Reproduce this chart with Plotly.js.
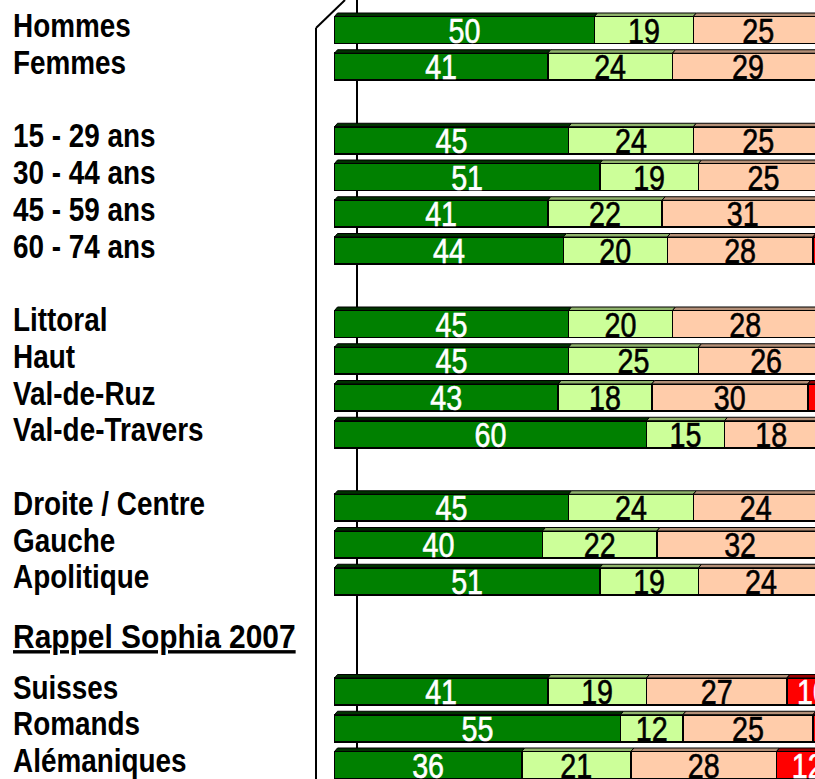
<!DOCTYPE html>
<html>
<head>
<meta charset="utf-8">
<script src="https://cdn.plot.ly/plotly-3.0.1.min.js"></script>
<style>
html, body { margin:0; padding:0; overflow:hidden; background:#fff; }
#chart { width:1000px; height:779px; }
</style>
</head>
<body>
<div id="chart"></div>
<script>
// ---- data ----
const categories = [
  "Hommes", "Femmes",
  "15 - 29 ans", "30 - 44 ans", "45 - 59 ans", "60 - 74 ans",
  "Littoral", "Haut", "Val-de-Ruz", "Val-de-Travers",
  "Droite / Centre", "Gauche", "Apolitique",
  "Suisses", "Romands", "Alémaniques"
];
const groupSizes = [2, 4, 4, 3, 3];
const groupHeadings = ["", "", "", "", "Rappel Sophia 2007"];
const seriesNames = ["Très favorable", "Plutôt favorable", "Plutôt défavorable", "Très défavorable"];
const s1 = [50, 41, 45, 51, 41, 44, 45, 45, 43, 60, 45, 40, 51, 41, 55, 36];
const s2 = [19, 24, 24, 19, 22, 20, 20, 25, 18, 15, 24, 22, 19, 19, 12, 21];
const s3 = [25, 29, 25, 25, 31, 28, 28, 26, 30, 18, 24, 32, 24, 27, 25, 28];
const s4 = [6, 6, 6, 5, 6, 8, 7, 4, 9, 7, 7, 6, 6, 10, 8, 12];

// ---- styles ----
const colors = ["#008000", "#CCFF99", "#FFCCAA", "#FF0000"];
const topColors = ["#003300", "#8FB36B", "#B38F77", "#990000"];
const textColors = ["#FFFFFF", "#000000", "#000000", "#FFFFFF"];
const FONT = "'Liberation Sans', Arial, sans-serif";
const NARROW = 0.82, HEAD_NARROW = 0.88;

const W = 1000, H = 779;
const x0px = 334.5, pxPerUnit = 5.2;
const rowPx = 36.75, row0px = 30;
const xRange = [-x0px / pxPerUnit, (W - x0px) / pxPerUnit];
const yTop = -row0px / rowPx;
const yRange = [yTop + H / rowPx, yTop];
const barW = 27 / rowPx;
const depthX = 3 / pxPerUnit, depthY = 3.5 / rowPx;

// rows: groups separated by one empty row; heading group gets two
const rows = [];
const headingRows = [];
let r = 0;
groupSizes.forEach((n, g) => {
  if (g > 0) r += groupHeadings[g] ? 2 : 1;
  if (groupHeadings[g]) headingRows.push({ text: groupHeadings[g], row: r - 1.4 });
  for (let i = 0; i < n; i++) { rows.push(r); r++; }
});

const series = [s1, s2, s3, s4];
const traces = series.map((vals, k) => ({
  type: "bar",
  orientation: "h",
  name: seriesNames[k],
  y: rows,
  x: vals,
  width: barW,
  text: vals.map(String),
  textposition: "inside",
  insidetextanchor: "middle",
  constraintext: "none",
  textangle: 0,
  textfont: { family: FONT, size: 35, color: textColors[k] },
  marker: { color: colors[k], line: { color: "#000", width: 1.6 } },
  hoverinfo: "skip"
}));

const shapes = [];
// back wall line (behind bars)
shapes.push({ type: "line", xref: "paper", yref: "paper", layer: "below",
  x0: 357 / W, x1: 357 / W, y0: 0, y1: 1, line: { color: "#000", width: 2 } });
// left wall
shapes.push({ type: "line", xref: "paper", yref: "paper",
  x0: 316 / W, x1: 316 / W, y0: 0, y1: 1 - 28 / H, line: { color: "#000", width: 2 } });
shapes.push({ type: "line", xref: "paper", yref: "paper",
  x0: 316 / W, x1: 345 / W, y0: 1 - 28 / H, y1: 1, line: { color: "#000", width: 2 } });

// 3D top faces computed from the stacked values
rows.forEach((row, i) => {
  let cum = 0;
  series.forEach((vals, k) => {
    const a = cum, b = cum + vals[i];
    cum = b;
    const yt = row - barW / 2;
    shapes.push({
      type: "path", xref: "x", yref: "y",
      path: `M ${a} ${yt} L ${a + depthX} ${yt - depthY} L ${b + depthX} ${yt - depthY} L ${b} ${yt} Z`,
      fillcolor: topColors[k], line: { color: "#000", width: 1 }
    });
  });
});

const annotations = categories.map((c, i) => ({
  text: c, xref: "paper", yref: "y", x: 11 / W, y: rows[i],
  xanchor: "left", yanchor: "middle", showarrow: false, yshift: 5,
  font: { family: FONT, size: 34, color: "#000", weight: "bold" }
}));
headingRows.forEach(h => annotations.push({
  text: "<u>" + h.text + "</u>", xref: "paper", yref: "y", x: 11 / W, y: h.row,
  xanchor: "left", yanchor: "middle", showarrow: false, yshift: 4,
  font: { family: FONT, size: 34, color: "#000", weight: "bold" }
}));

function squeeze(el, s, anchor) {
  const bb = el.getBBox();
  const cx = anchor === "left" ? bb.x : bb.x + bb.width / 2;
  const old = el.getAttribute("transform") || "";
  el.setAttribute("transform", `${old} translate(${cx},0) scale(${s},1) translate(${-cx},0)`);
}

Plotly.newPlot("chart", traces, {
  width: W, height: H,
  margin: { l: 0, r: 0, t: 0, b: 0 },
  paper_bgcolor: "#fff", plot_bgcolor: "#fff",
  barmode: "stack",
  showlegend: false,
  xaxis: { range: xRange, visible: false, fixedrange: true },
  yaxis: { range: yRange, visible: false, fixedrange: true },
  shapes: shapes,
  annotations: annotations
}, { staticPlot: true }).then(gd => {
  // narrow (condensed) lettering as in the original
  gd.querySelectorAll("text.bartext").forEach(t => {
    t.style.stroke = t.style.fill || "";
    t.style.strokeWidth = "0.6px";
    squeeze(t, NARROW, "center");
  });
  gd.querySelectorAll("text.annotation-text").forEach(t => {
    const isHead = t.textContent === groupHeadings[groupHeadings.length - 1];
    squeeze(t, isHead ? HEAD_NARROW : NARROW, "left");
  });
});
</script>
</body>
</html>
